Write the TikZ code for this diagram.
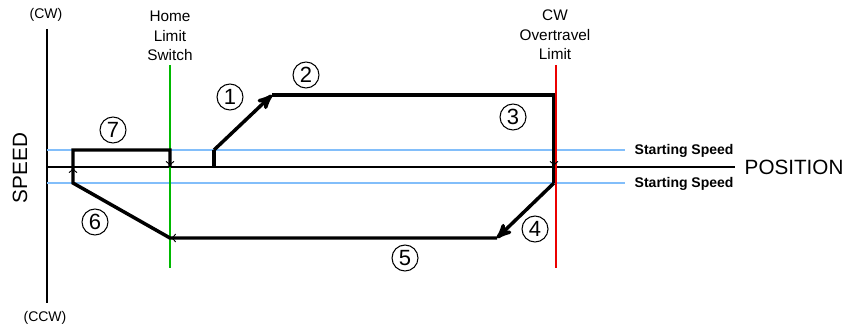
\documentclass[tikz,border=0pt]{standalone}
\usepackage{fontspec}
\setmainfont{Liberation Sans}
\usetikzlibrary{arrows, arrows.meta, calc}

\begin{document}
\begin{tikzpicture}
      [
        x=0.75pt, y=-0.75pt,
        axis/.style={line width=1.5pt},
        profile/.style={line width=2.6pt, line join=miter},
        bigtip/.style={profile,->,>=stealth'},
        smalltip/.style={line width=0.7pt,-{To[length=4.5pt,width=6.5pt]}},
        speedline/.style={line width=1.5pt, color=speedblue},
        num/.style={circle,draw,line width=0.8pt,inner sep=0pt,minimum size=19.5pt,font=\fontsize{16.5}{16.5}\selectfont},
        label/.style={align=center,font=\fontsize{11.5}{14.6}\selectfont}
      ]
      \definecolor{speedblue}{RGB}{130,190,250}
      \definecolor{homegreen}{RGB}{0,185,0}
      \definecolor{limitred}{RGB}{235,0,0}
      \useasboundingbox (0,0) rectangle (848,328);
      % axes
      \draw [axis] (47,29) -- (47,303);
      \draw [axis] (47,167) -- (735,167);
      \node [font=\fontsize{10.5}{10.5}\selectfont] (cw) at (46,15) {(CW)};
      \node [font=\fontsize{10.5}{10.5}\selectfont] (ccw) at (45,318) {(CCW)};
      \node [font=\fontsize{15.5}{15.5}\selectfont, rotate=90] (speed) at (20,168) {SPEED};
      \node [font=\fontsize{15.5}{15.5}\selectfont, anchor=west] (position) at (740,167) {POSITION};
      % starting speed
      \draw [speedline] (47,150) -- (625,150);
      \draw [speedline] (47,183) -- (625,183);
      \node [font=\bfseries\fontsize{10.5}{10.5}\selectfont, anchor=west] (ss1) at (630,151) {Starting Speed};
      \node [font=\bfseries\fontsize{10.5}{10.5}\selectfont, anchor=west] (ss2) at (630,184) {Starting Speed};
      % limits
      \draw [line width=1.6pt, homegreen] (170,65) -- (170,268);
      \node [label] (home) at (170,36) {Home\\Limit\\Switch};
      \node [label] (over) at (555,35) {CW\\Overtravel\\Limit};
      % profile points
      \coordinate (p0) at (214,167);
      \coordinate (p1) at (214,150);
      \coordinate (p2) at (272,95);
      \coordinate (p3) at (554,95);
      \coordinate (p4) at (554,167);
      \coordinate (p5) at (554,183);
      \coordinate (p6) at (497,238);
      \coordinate (p7) at (170,238);
      \coordinate (p8) at (73,183);
      \coordinate (p9) at (73,167);
      \coordinate (p10) at (73,150);
      \coordinate (p11) at (170,150);
      \coordinate (p12) at (170,167);
      % profile
      \draw [profile] (p0) -- (p1);
      \draw [bigtip] (p1) -- (p2);
      \draw [profile] (p2) -- (p3) -- (p4) -- (p5);
      \draw [bigtip] (p5) -- (p6);
      \draw [profile] (p6) -- (p7) -- (p8) -- (p10) -- (p11) -- (p12);
      \draw [line width=1.6pt, limitred] (556,65) -- (556,268);
      \draw [smalltip] ($(p4)+(0,-8)$) -- (p4);
      \draw [smalltip] ($(p7)+(10,0)$) -- (p7);
      \draw [smalltip] ($(p9)+(0,8)$) -- (p9);
      \draw [smalltip] ($(p12)+(0,-8)$) -- (p12);
      % step numbers
      \node [num] (n1) at (230,97) {1};
      \node [num] (n2) at (306,75) {2};
      \node [num] (n3) at (513,117) {3};
      \node [num] (n4) at (535,229) {4};
      \node [num] (n5) at (405,258) {5};
      \node [num] (n6) at (95,222) {6};
      \node [num] (n7) at (113,130) {7};
\end{tikzpicture}
\end{document}
